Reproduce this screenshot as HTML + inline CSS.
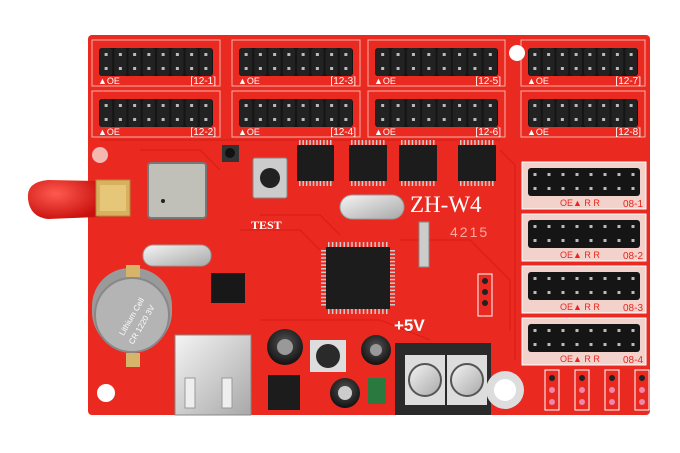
<!DOCTYPE html>
<html><head><meta charset="utf-8"><style>
html,body{margin:0;padding:0;background:#fff;width:680px;height:453px;overflow:hidden}
svg{display:block}
text{font-family:"Liberation Sans",sans-serif}
text.serif{font-family:"Liberation Serif",serif}
</style></head><body>
<svg id="s" width="680" height="453" viewBox="0 0 680 453" xmlns="http://www.w3.org/2000/svg">
<defs>
<radialGradient id="cap" cx="40%" cy="35%" r="70%"><stop offset="0" stop-color="#ff5a50"/><stop offset="1" stop-color="#c8100c"/></radialGradient>
<linearGradient id="sil" x1="0" y1="0" x2="1" y2="1"><stop offset="0" stop-color="#f4f4f4"/><stop offset="1" stop-color="#a8a8a8"/></linearGradient>
<radialGradient id="capb" cx="50%" cy="40%" r="60%"><stop offset="0" stop-color="#555"/><stop offset="1" stop-color="#111"/></radialGradient>
</defs>
<rect x="88" y="35" width="562" height="380" rx="4" fill="#ea2a20"/>
<g stroke="#d21a12" stroke-width="1.2" fill="none" opacity="0.7">
<path d="M240 230 L300 230 L320 250 M100 140 L500 140 M260 215 L320 215 L340 235 M400 240 L470 240 L510 280 L510 330 M300 320 L380 320 L430 340 M140 150 L200 150 L220 170 M500 150 L515 165 L515 360 M260 320 L300 320"/>
</g>
<g id="g"></g>
<!-- antenna -->
<path d="M48 180 Q26 182 28 199 Q30 217 48 219 L98 217 L98 181 Z" fill="url(#cap)"/>
<rect x="96" y="180" width="34" height="36" fill="#d8b060" stroke="#b08a3a"/>
<rect x="100" y="185" width="26" height="26" fill="#e6c678"/>
<circle cx="100" cy="155" r="8" fill="#f3b8b2"/>
<circle cx="106" cy="393" r="9" fill="#fff"/>
<circle cx="517" cy="53" r="8" fill="#fff"/>
<!-- wifi module -->
<rect x="148" y="163" width="58" height="55" rx="3" fill="#c0c0b8" stroke="#777" stroke-width="2"/>
<circle cx="163" cy="201" r="2" fill="#222"/>
<rect x="222" y="145" width="17" height="17" fill="#333"/><circle cx="230" cy="153" r="5" fill="#111"/>
<!-- test button -->
<rect x="253" y="158" width="34" height="40" rx="2" fill="#ccc" stroke="#888"/>
<circle cx="270" cy="178" r="10" fill="#222"/>
<text class="serif" x="251" y="229" fill="#fff" font-size="12" font-weight="bold">TEST</text>
<!-- crystals -->
<rect x="340" y="195" width="64" height="24" rx="12" fill="url(#sil)" stroke="#999"/>
<rect x="143" y="245" width="68" height="21" rx="10" fill="url(#sil)" stroke="#999"/>
<rect x="419" y="222" width="10" height="45" fill="#ccc" stroke="#888"/>
<text class="serif" x="410" y="212" fill="#fff" font-size="23">ZH-W4</text>
<text x="450" y="237" fill="#ffa8a0" font-size="14" letter-spacing="2">4215</text>
<rect x="211" y="273" width="34" height="30" fill="#181818"/>
<!-- battery -->
<rect x="92" y="268" width="80" height="82" rx="38" fill="#9a9a9a"/>
<circle cx="132" cy="315" r="37" fill="#b4b4b4" stroke="#888" stroke-width="2"/>
<rect x="126" y="265" width="14" height="12" fill="#d6b46a"/>
<rect x="126" y="353" width="14" height="14" fill="#d6b46a"/>
<text transform="translate(134,318) rotate(-60)" text-anchor="middle" fill="#fff" font-size="8">Lithium Cell</text>
<text transform="translate(144,326) rotate(-60)" text-anchor="middle" fill="#fff" font-size="8">CR 1220 3V</text>
<!-- USB -->
<rect x="175" y="335" width="76" height="80" fill="url(#sil)" stroke="#888"/>
<rect x="185" y="378" width="10" height="30" fill="#eee" stroke="#999"/>
<rect x="222" y="378" width="10" height="30" fill="#eee" stroke="#999"/>
<!-- caps -->
<circle cx="285" cy="347" r="18" fill="url(#capb)"/><circle cx="285" cy="347" r="8" fill="#999"/>
<circle cx="376" cy="350" r="15" fill="url(#capb)"/><circle cx="376" cy="350" r="6" fill="#999"/>
<circle cx="345" cy="393" r="15" fill="url(#capb)"/><circle cx="345" cy="393" r="7" fill="#ccc"/>
<rect x="310" y="340" width="36" height="32" fill="#ddd"/><circle cx="328" cy="356" r="12" fill="#2a2a2a"/>
<rect x="268" y="375" width="32" height="35" fill="#1c1c1c"/>
<rect x="368" y="378" width="18" height="26" fill="#2a7a40"/>
<!-- terminal -->
<rect x="395" y="343" width="96" height="72" fill="#2a2a2a"/>
<rect x="405" y="355" width="40" height="50" fill="#ddd"/><rect x="447" y="355" width="40" height="50" fill="#ddd"/>
<circle cx="425" cy="380" r="16" fill="url(#sil)" stroke="#555" stroke-width="2"/>
<circle cx="467" cy="380" r="16" fill="url(#sil)" stroke="#555" stroke-width="2"/>
<circle cx="505" cy="390" r="19" fill="#ddd"/><circle cx="505" cy="390" r="11" fill="#fff"/>
<text x="394" y="331" fill="#fff" font-size="17" font-weight="bold">+5V</text>
<rect x="478" y="274" width="14" height="42" fill="none" stroke="#fff"/>
<circle cx="485" cy="281" r="3" fill="#222"/><circle cx="485" cy="292" r="3" fill="#222"/><circle cx="485" cy="303" r="3" fill="#222"/>
</svg>
<script>
var g=document.getElementById('g'),h='';
function chip(x,y,w,hh,p){h+='<rect x="'+x+'" y="'+y+'" width="'+w+'" height="'+hh+'" fill="#1c1c1c"/>';
 for(var i=0;i<p;i++){var px=x+3+i*(w-6)/(p-1);h+='<rect x="'+(px-1)+'" y="'+(y-5)+'" width="1.5" height="5" fill="#ccc"/><rect x="'+(px-1)+'" y="'+(y+hh)+'" width="1.5" height="5" fill="#ccc"/>';}}
function hdr(x,y,w,lab){
 h+='<rect x="'+x+'" y="'+y+'" width="'+w+'" height="46" fill="none" stroke="#f7b0a8" stroke-width="1"/>';
 var px=x+7,pw=(w-14)/8;
 h+='<rect x="'+px+'" y="'+(y+8)+'" width="'+(w-14)+'" height="28" rx="3" fill="#151515"/>';
 for(var i=0;i<8;i++){var cx=px+pw*i+pw/2;
  h+='<rect x="'+(cx-pw/2+1)+'" y="'+(y+8)+'" width="'+(pw-2)+'" height="28" rx="3" fill="#222"/>';
  h+='<rect x="'+(cx-1.5)+'" y="'+(y+13)+'" width="3" height="3" fill="#bbb"/><rect x="'+(cx-1.5)+'" y="'+(y+27)+'" width="3" height="3" fill="#bbb"/>';}
 h+='<text x="'+(x+6)+'" y="'+(y+44)+'" fill="#fff" font-size="9">▲OE</text>';
 h+='<text x="'+(x+w-4)+'" y="'+(y+44)+'" fill="#fff" font-size="10" text-anchor="end">'+lab+'</text>';}
var xs=[92,232,368,521],ws=[128,128,137,124],n=1;
for(var c=0;c<4;c++){hdr(xs[c],40,ws[c],'[12-'+(n++)+']');hdr(xs[c],91,ws[c],'[12-'+(n++)+']');}
var ys=[162,214,266,318];
for(var r=0;r<4;r++){h+='<rect x="522" y="'+ys[r]+'" width="124" height="47" fill="#f3d2cc" stroke="#fff"/>';
 var px=528,pw=14;h+='<rect x="528" y="'+(ys[r]+6)+'" width="112" height="28" rx="3" fill="#151515"/>';
 for(var i=0;i<8;i++){var cx=px+pw*i+7;h+='<rect x="'+(cx-1.5)+'" y="'+(ys[r]+11)+'" width="3" height="3" fill="#bbb"/><rect x="'+(cx-1.5)+'" y="'+(ys[r]+25)+'" width="3" height="3" fill="#bbb"/>';}
 h+='<text x="560" y="'+(ys[r]+44)+'" fill="#e8261c" font-size="9">OE▲ R R</text><text x="643" y="'+(ys[r]+45)+'" fill="#e8261c" font-size="10" text-anchor="end">08-'+(r+1)+'</text>';}
chip(297,145,37,36,10);chip(349,145,38,36,10);chip(399,145,38,36,10);chip(458,145,38,36,10);
chip(326,247,64,62,16);
for(var i=0;i<16;i++){var py=250+i*3.6;h+='<rect x="321" y="'+py+'" width="5" height="1.5" fill="#ccc"/><rect x="390" y="'+py+'" width="5" height="1.5" fill="#ccc"/>';}
for(var k=0;k<4;k++){var bx=545+k*30;h+='<rect x="'+bx+'" y="370" width="14" height="40" fill="none" stroke="#fff"/><circle cx="'+(bx+7)+'" cy="378" r="3" fill="#222"/><circle cx="'+(bx+7)+'" cy="390" r="3" fill="#e8a"/><circle cx="'+(bx+7)+'" cy="402" r="3" fill="#e8a"/>';}
g.innerHTML=h;
</script>
</body></html>
